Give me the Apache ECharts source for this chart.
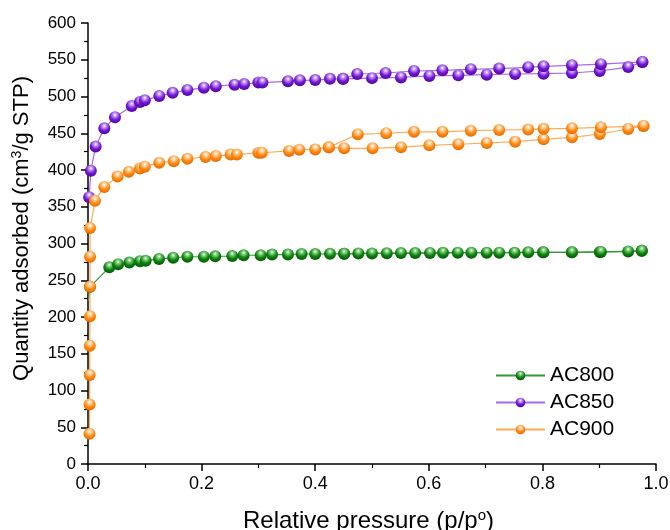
<!DOCTYPE html>
<html>
<head>
<meta charset="utf-8">
<script src="https://cdn.jsdelivr.net/npm/echarts@6/dist/echarts.min.js"></script>
<style>html,body{margin:0;padding:0;background:#fff}#c{width:670px;height:530px}</style>
</head>
<body>
<div id="c"></div>
<script>
// ---- data ----
const seriesNames = ['AC800', 'AC850', 'AC900'];
const xTicks = [0, 0.2, 0.4, 0.6, 0.8, 1.0];
const yTicks = [0, 50, 100, 150, 200, 250, 300, 350, 400, 450, 500, 550, 600];

const ac800AdsX = [0.0005,0.0035,0.0375,0.053,0.073,0.0915,0.1015,0.125,0.15,0.175,0.204,0.224,0.254,0.274,0.304,0.324,0.352,0.376,0.40,0.426,0.451,0.50,0.551,0.602,0.651,0.702,0.751,0.801,0.852,0.901,0.951,0.975];
const ac800AdsY = [222,241,267.6,271.7,274,276,276.6,279,280.7,282,282,282.5,283,284,284,285,285,285.7,285.7,286,286,286.5,287,287,287.5,287.5,287.5,288,288,288.5,289,290];
const ac800DesX = [0.975,0.903,0.852,0.802,0.775,0.724,0.675,0.625,0.576,0.526,0.476,0.451];
const ac800DesY = [290,288.5,288,288,288,287.5,287.5,287.5,287,286.7,286.5,286];

const ac850AdsX = [0.002,0.005,0.0135,0.0287,0.0475,0.077,0.0915,0.100,0.1255,0.149,0.175,0.204,0.225,0.258,0.275,0.300,0.307,0.352,0.373,0.400,0.426,0.449,0.500,0.551,0.601,0.652,0.702,0.752,0.802,0.852,0.901,0.951,0.976];
const ac850AdsY = [363,399,432,456.7,471.7,487,492.5,495,500.7,505,508.8,512,514,516,517,519,519,520.6,522,522.4,524,524,525,526,528,528.8,529.7,530.6,531,532,534.7,540,547];
const ac850DesX = [0.976,0.903,0.852,0.802,0.775,0.724,0.674,0.624,0.574,0.524,0.474,0.449];
const ac850DesY = [547,544,542.4,541,539.7,538,537,535.6,534.7,532,530.6,524];

const ac900AdsX = [0.0025,0.0028,0.003,0.0032,0.0034,0.0035,0.0036,0.0037,0.0123,0.0287,0.052,0.072,0.0915,0.100,0.1255,0.151,0.175,0.207,0.225,0.251,0.262,0.300,0.306,0.354,0.372,0.400,0.424,0.451,0.501,0.551,0.601,0.652,0.702,0.752,0.802,0.852,0.901,0.951,0.978];
const ac900AdsY = [41,81,121,161,201,241,282,321,358,377,391,397.7,402,404.5,410,412,415.4,417.7,419,421,421,423.5,423.5,426,427.6,428,431,429.5,429.5,431,433.6,435,436.7,438.5,441.7,444.5,449,455.8,460];
const ac900DesX = [0.978,0.903,0.852,0.802,0.775,0.724,0.674,0.624,0.574,0.525,0.475,0.424];
const ac900DesY = [460,458,456.7,456,455,454.4,453.5,452,452,450,448.6,431];

// ---- styling ----
const palette = {
  AC800: {dark:'#005200', mid:'#0f820f', light:'#86d486', line:'#3a963a'},
  AC850: {dark:'#4a0096', mid:'#7418d4', light:'#c9a0f5', line:'#a86ae8'},
  AC900: {dark:'#e06400', mid:'#ff8a12', light:'#ffd6a8', line:'#ffab55'}
};
function ball(p){
  return {type:'radial', x:0.5, y:0.3, r:0.75, colorStops:[
    {offset:0, color:'#ffffff'},
    {offset:0.18, color:p.light},
    {offset:0.55, color:p.mid},
    {offset:1, color:p.dark}
  ]};
}
function pairs(xs, ys){ return xs.map((x,i)=>[x, ys[i]]); }
function mk(name, xs, ys, hideFirst){
  const p = palette[name];
  return {
    name: name, type:'line', data: pairs(xs, ys),
    symbol:'circle',
    symbolSize: hideFirst ? (v, prm) => (prm.dataIndex === 0 ? 0 : 12) : 12,
    lineStyle:{color:p.line, width:1.2},
    itemStyle:{color: ball(p), borderWidth:0},
    emphasis:{disabled:true}, animation:false, clip:false
  };
}
const series = [
  mk('AC800', ac800AdsX, ac800AdsY, true), mk('AC800', ac800DesX, ac800DesY),
  mk('AC850', ac850AdsX, ac850AdsY), mk('AC850', ac850DesX, ac850DesY),
  mk('AC900', ac900AdsX, ac900AdsY), mk('AC900', ac900DesX, ac900DesY)
];

const font = 'Liberation Sans, Arial, sans-serif';
const chart = echarts.init(document.getElementById('c'), null, {renderer:'canvas'});
chart.setOption({
  backgroundColor:'#fff',
  animation:false,
  grid:{left:88, right:14, top:23, bottom:66, containLabel:false, outerBoundsMode:'none'},
  legend:{
    data: seriesNames, orient:'vertical', left:490, top:360,
    itemWidth:49, itemHeight:12, itemGap:6,
    textStyle:{fontFamily:font, fontSize:21, lineHeight:21, color:'#000'},
    selectedMode:false
  },
  xAxis:{
    type:'value', min:xTicks[0], max:xTicks[xTicks.length-1], interval:0.2,
    name:'{a|Relative pressure (p/p}{s|o}{a|)}', nameLocation:'middle', nameGap:44,
    nameTextStyle:{fontFamily:font, color:'#000', padding:[0,7,0,0], rich:{
      a:{fontFamily:font, fontSize:24, color:'#000', verticalAlign:'bottom'},
      s:{fontFamily:font, fontSize:15, color:'#000', verticalAlign:'bottom', padding:[0,0,10,0]}
    }},
    axisLine:{lineStyle:{color:'#000', width:1.5}},
    axisTick:{show:true, length:7, lineStyle:{color:'#000', width:1.5}},
    minorTick:{show:true, splitNumber:2, length:4, lineStyle:{color:'#000', width:1.2}},
    splitLine:{show:false},
    axisLabel:{fontFamily:font, fontSize:18, color:'#000', margin:11,
      formatter:v=>v.toFixed(1)}
  },
  yAxis:{
    type:'value', min:yTicks[0], max:yTicks[yTicks.length-1], interval:50,
    name:'{a|Quantity adsorbed (cm}{s|3}{a|/g STP)}', nameLocation:'middle', nameGap:55,
    nameTextStyle:{fontFamily:font, color:'#000', padding:[0,0,0,30], rich:{
      a:{fontFamily:font, fontSize:22, color:'#000', verticalAlign:'bottom'},
      s:{fontFamily:font, fontSize:14, color:'#000', verticalAlign:'bottom', padding:[0,0,9,0]}
    }},
    axisLine:{show:true, lineStyle:{color:'#000', width:1.5}},
    axisTick:{show:true, length:7, lineStyle:{color:'#000', width:1.5}},
    minorTick:{show:true, splitNumber:2, length:4, lineStyle:{color:'#000', width:1.2}},
    splitLine:{show:false},
    axisLabel:{fontFamily:font, fontSize:17, color:'#000', margin:12}
  },
  series: series
});
</script>
</body>
</html>
